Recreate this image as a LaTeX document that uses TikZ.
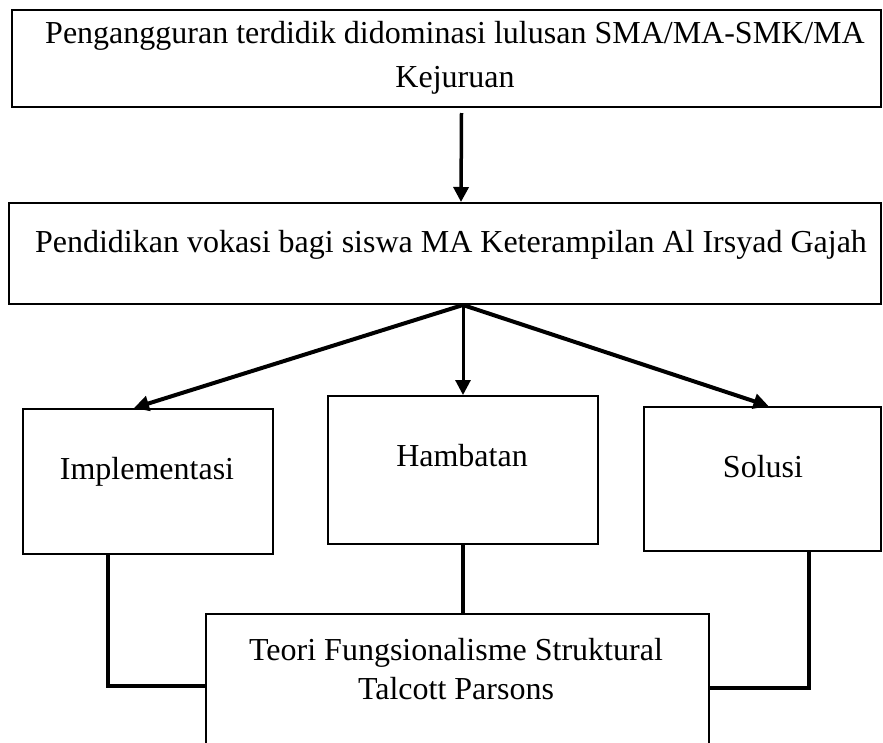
\documentclass[tikz,border=0pt]{standalone}
\usepackage{fontspec}
\setmainfont{Liberation Serif}
\usetikzlibrary{arrows.meta,calc}
\begin{document}
\begin{tikzpicture}[x=1pt,y=-1pt,
  box/.style={draw=black,line width=2pt,inner sep=0pt,anchor=north west},
  txt/.style={anchor=base,inner sep=0pt,font=\fontsize{32}{40}\selectfont},
  arr/.style={line width=3pt,-{Triangle[length=15pt,width=15pt]}},
  conn/.style={line width=4pt}]
\clip (0,0) rectangle (883,742);
\fill[white] (0,0) rectangle (883,742);
% boxes
\node[box,minimum width=869pt,minimum height=97pt] (top) at (11,9) {};
\node[box,minimum width=872pt,minimum height=101pt] (pend) at (8,202) {};
\node[box,minimum width=250pt,minimum height=145pt] (impl) at (22,408) {};
\node[box,minimum width=270pt,minimum height=148pt] (hamb) at (327,395) {};
\node[box,minimum width=237pt,minimum height=144pt] (sol) at (643,406) {};
\node[box,minimum width=503pt,minimum height=160pt] (teori) at (205,613) {};
% texts
\node[txt] (t1) at (455,43) {Pengangguran terdidik didominasi lulusan SMA/MA-SMK/MA};
\node[txt] (t2) at (455,87) {Kejuruan};
\node[txt] (t3) at (451,252) {Pendidikan vokasi bagi siswa MA Keterampilan Al Irsyad Gajah};
\node[txt] (t4) at (147,479) {Implementasi};
\node[txt] (t5) at (462,466) {Hambatan};
\node[txt] (t6) at (763,477) {Solusi};
\node[txt] (t7) at (456,660) {Teori Fungsionalisme Struktural};
\node[txt] (t8) at (456,699) {Talcott Parsons};
% arrows
\coordinate (src) at ($(pend.south)+(18,0)$);
\draw[arr,line width=3.5pt] ($(top.south)+(15,5)$) -- ($(pend.north)+(16,0)$);
\draw[arr,line width=4pt] (src) -- ($(impl.north)+(-14,0)$);
\draw[arr] (src) -- ($(hamb.north)+(0,0)$);
\draw[arr,line width=4pt] (src) -- ($(sol.north)+(6,0)$);
% connectors
\draw[conn] ($(impl.south)+(-40,0)$) |- (teori.west |- 0,686);
\draw[conn,line width=3.5pt] (hamb.south) -- (hamb.south |- teori.north);
\draw[conn] ($(sol.south)+(46,0)$) |- (teori.east |- 0,688);
\end{tikzpicture}
\end{document}
